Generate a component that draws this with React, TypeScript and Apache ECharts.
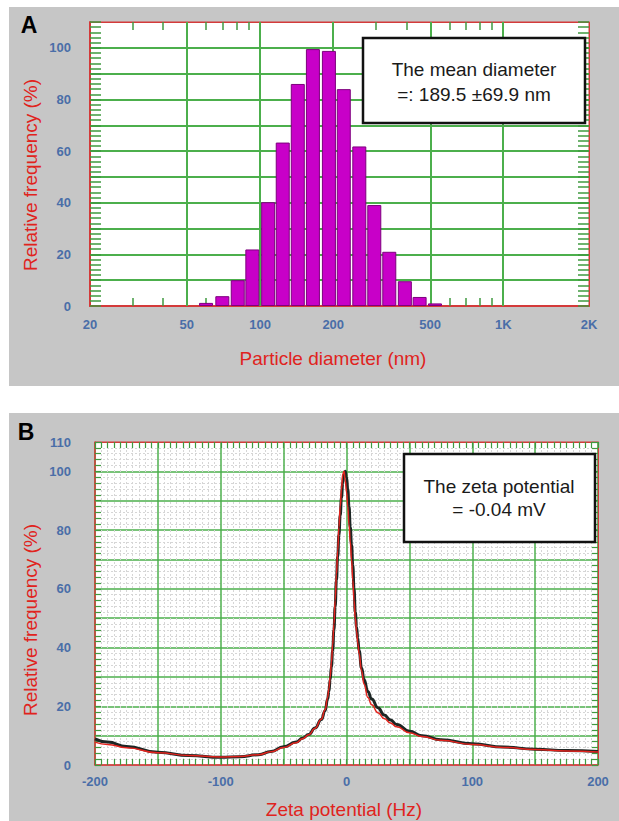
import React, { useEffect, useRef } from 'react';
import * as echarts from 'echarts';

// ---------- Panel A: particle size distribution ----------
const diameterNm = [60, 70, 81, 93, 108, 124, 143, 165, 192, 221, 256, 295, 340, 394, 453, 524];
const relFreqA = [1.2, 3.8, 10, 21.9, 40.2, 63.3, 86, 99.5, 98.8, 84, 61.8, 39.1, 21, 9.6, 3.5, 1.0];
const xEdgesA = [20, 2252];
const xLabelValuesA = [20, 50, 100, 200, 500, 1000, 2252];
const xLabelTextsA = ['20', '50', '100', '200', '500', '1K', '2K'];
const xGridValuesA = [50, 100, 200, 500, 1000];
const xMinorTicksA = [30, 40, 60, 70, 80, 90, 300, 400, 600, 700, 800, 900];

// ---------- Panel B: zeta potential ----------
const zetaHz = [-200, -190, -175, -150, -125, -100, -85, -70, -60, -50,
  -40, -35, -30, -25, -20, -17, -15, -14, -13, -12,
  -11, -10, -9, -8, -7, -6, -5, -4, -3, -2,
  -1, 0, 1, 2, 3, 4, 5, 6, 7, 8,
  9, 10, 12, 14, 17, 20, 25, 30, 35, 40,
  50, 60, 75, 100, 125, 150, 175, 200];
const freqMeasured = [8.9, 7.8, 6.3, 4.3, 3.2, 2.6, 2.8, 3.5, 4.6, 6.2,
  7.8, 9.1, 10.4, 12.6, 15.5, 18.5, 22.5, 25, 29, 33.5,
  39, 46, 54, 63, 71, 78.5, 85, 91, 96, 99,
  100, 98, 94, 88, 81, 75, 68, 60, 52, 47,
  43, 39, 33, 29, 25, 22.5, 19.5, 17, 15.3, 13.8,
  11.5, 10.0, 8.6, 7.2, 6.1, 5.4, 4.9, 4.6];
const freqFit = [7.8, 7.0, 5.9, 4.2, 3.2, 2.7, 2.9, 3.5, 4.5, 6.0,
  7.6, 8.9, 10.3, 12.5, 15.6, 18.8, 23, 26, 30, 35,
  41, 48, 56, 65, 73, 81, 88, 94, 99, 100,
  97, 93, 88, 82, 76, 70, 63, 56, 50, 45.5,
  41.5, 38, 32, 27.5, 23, 20.5, 17.8, 15.8, 14.3, 13.0,
  11.0, 9.7, 8.4, 7.0, 6.0, 5.3, 4.8, 4.4];

const FONT = '"Liberation Sans", Arial, Helvetica, sans-serif';
const RED = '#e0231d';
const AXIS_RED = '#d43a3a';
const BLUE = '#4a6ea8';
const GREEN = '#4caf4c';
const TICK_GREEN = '#3f9a3f';

const lg = (v: number) => Math.log10(v);

function labelA(v: number) {
  let best = 0;
  let bd = Infinity;
  xLabelValuesA.forEach((d, i) => {
    const dd = Math.abs(lg(d) - v);
    if (dd < bd) { bd = dd; best = i; }
  });
  return xLabelTextsA[best];
}

const labelStyle = {
  color: BLUE,
  fontWeight: 'bold' as const,
  fontSize: 13,
  fontFamily: FONT,
};

export default function App() {
  const ref = useRef<HTMLDivElement>(null);

  useEffect(() => {
    document.body.style.margin = '0';
    if (!ref.current) return;
    const chart = echarts.init(ref.current, null, { renderer: 'svg' });

    const option: any = {
      animation: false,
      grid: [
        { left: 90, top: 22, width: 499, height: 284, show: true, backgroundColor: '#ffffff', borderColor: AXIS_RED, borderWidth: 1 },
        { left: 95, top: 442, width: 503, height: 323, show: true, backgroundColor: '#ffffff', borderColor: AXIS_RED, borderWidth: 1 },
      ],
      xAxis: [
        {
          type: 'value', gridIndex: 0, position: 'bottom',
          min: lg(xEdgesA[0]), max: lg(xEdgesA[1]),
          axisLine: { show: true, onZero: false, lineStyle: { color: AXIS_RED, width: 2 } },
          axisTick: { show: true, inside: true, length: 8, customValues: xMinorTicksA.map(lg), lineStyle: { color: TICK_GREEN, width: 1.5 } },
          axisLabel: { ...labelStyle, customValues: xLabelValuesA.map(lg), formatter: (v: number) => labelA(v), margin: 12, showMinLabel: true, showMaxLabel: true, hideOverlap: false },
          splitLine: { show: false },
        },
        {
          type: 'value', gridIndex: 0, position: 'top',
          min: lg(xEdgesA[0]), max: lg(xEdgesA[1]),
          axisLine: { show: true, onZero: false, lineStyle: { color: AXIS_RED, width: 1 } },
          axisTick: { show: true, inside: true, length: 8, customValues: xMinorTicksA.map(lg), lineStyle: { color: TICK_GREEN, width: 1.5 } },
          axisLabel: { show: false },
          splitLine: { show: false },
        },
        {
          type: 'value', gridIndex: 1, position: 'bottom',
          min: -200, max: 200, interval: 50,
          axisLine: { show: true, onZero: false, lineStyle: { color: AXIS_RED, width: 1.5 } },
          axisTick: { show: true, inside: true, length: 6, lineStyle: { color: TICK_GREEN, width: 1.2 } },
          minorTick: { show: true, splitNumber: 10, length: 6, lineStyle: { color: TICK_GREEN, width: 1.2 } },
          axisLabel: { ...labelStyle, margin: 10, formatter: (v: number) => (v % 100 === 0 ? String(v) : '') },
          splitLine: { show: true, lineStyle: { color: GREEN, width: 1.5 } },
          minorSplitLine: { show: true, lineStyle: { color: '#d6d6d6', width: 1, type: [2, 2] } },
        },
        {
          type: 'value', gridIndex: 1, position: 'top',
          min: -200, max: 200, interval: 50,
          axisLine: { show: true, onZero: false, lineStyle: { color: AXIS_RED, width: 1 } },
          axisTick: { show: true, inside: true, length: 6, lineStyle: { color: TICK_GREEN, width: 1.2 } },
          minorTick: { show: true, splitNumber: 10, length: 6, lineStyle: { color: TICK_GREEN, width: 1.2 } },
          axisLabel: { show: false },
          splitLine: { show: false },
        },
      ],
      yAxis: [
        {
          type: 'value', gridIndex: 0, position: 'left',
          min: 0, max: 110, interval: 10,
          axisLine: { show: true, onZero: false, lineStyle: { color: AXIS_RED, width: 2 } },
          axisTick: { show: true, inside: true, length: 11, lineStyle: { color: TICK_GREEN, width: 1.5 } },
          minorTick: { show: true, splitNumber: 5, length: 11, lineStyle: { color: TICK_GREEN, width: 1.5 } },
          axisLabel: { ...labelStyle, margin: 19, formatter: (v: number) => (v % 20 === 0 && v <= 100 ? String(v) : '') },
          splitLine: { show: true, showMinLine: false, showMaxLine: false, lineStyle: { color: GREEN, width: 2 } },
        },
        {
          type: 'value', gridIndex: 0, position: 'right',
          min: 0, max: 110, interval: 10,
          axisLine: { show: true, onZero: false, lineStyle: { color: AXIS_RED, width: 1 } },
          axisTick: { show: true, inside: true, length: 11, lineStyle: { color: TICK_GREEN, width: 1.5 } },
          minorTick: { show: true, splitNumber: 5, length: 11, lineStyle: { color: TICK_GREEN, width: 1.5 } },
          axisLabel: { show: false },
          splitLine: { show: false },
        },
        {
          type: 'value', gridIndex: 1, position: 'left',
          min: 0, max: 110, interval: 10,
          axisLine: { show: true, onZero: false, lineStyle: { color: AXIS_RED, width: 1.5 } },
          axisTick: { show: true, inside: true, length: 6, lineStyle: { color: TICK_GREEN, width: 1.2 } },
          minorTick: { show: true, splitNumber: 5, length: 6, lineStyle: { color: TICK_GREEN, width: 1.2 } },
          axisLabel: { ...labelStyle, margin: 24, formatter: (v: number) => (v % 20 === 0 || v === 110 ? String(v) : '') },
          splitLine: { show: true, showMinLine: false, showMaxLine: false, lineStyle: { color: GREEN, width: 1.5 } },
          minorSplitLine: { show: true, lineStyle: { color: '#d6d6d6', width: 1, type: [2, 2] } },
        },
        {
          type: 'value', gridIndex: 1, position: 'right',
          min: 0, max: 110, interval: 10,
          axisLine: { show: true, onZero: false, lineStyle: { color: AXIS_RED, width: 1 } },
          axisTick: { show: true, inside: true, length: 6, lineStyle: { color: TICK_GREEN, width: 1.2 } },
          minorTick: { show: true, splitNumber: 5, length: 6, lineStyle: { color: TICK_GREEN, width: 1.2 } },
          axisLabel: { show: false },
          splitLine: { show: false },
        },
      ],
      series: [
        {
          type: 'bar',
          name: 'Relative frequency',
          xAxisIndex: 0, yAxisIndex: 0,
          z: 10,
          barWidth: 14,
          data: diameterNm.map((d, i) => [lg(d), relFreqA[i]]),
          itemStyle: { color: '#c800c8', borderColor: '#7d007d', borderWidth: 1 },
          markLine: {
            silent: true,
            symbol: ['none', 'none'],
            label: { show: false },
            lineStyle: { color: GREEN, width: 2, type: 'solid' },
            data: xGridValuesA.map((v) => ({ xAxis: lg(v) })),
          },
        },
        {
          type: 'line',
          name: 'Measured',
          xAxisIndex: 2, yAxisIndex: 2,
          showSymbol: false,
          smooth: true,
          smoothMonotone: 'x',
          data: zetaHz.map((x, i) => [x, freqMeasured[i]]),
          lineStyle: { color: '#1c2624', width: 3 },
          z: 5,
        },
        {
          type: 'line',
          name: 'Fit',
          xAxisIndex: 2, yAxisIndex: 2,
          showSymbol: false,
          smooth: true,
          smoothMonotone: 'x',
          data: zetaHz.map((x, i) => [x, freqFit[i]]),
          lineStyle: { color: '#e3241e', width: 1.5 },
          z: 6,
        },
      ],
      graphic: [
        { type: 'text', x: 29, y: 25, style: { text: 'A', align: 'center', verticalAlign: 'middle', fontSize: 23, fontWeight: 'bold', fontFamily: FONT, fill: '#000' } },
        { type: 'text', x: 26, y: 432, style: { text: 'B', align: 'center', verticalAlign: 'middle', fontSize: 23, fontWeight: 'bold', fontFamily: FONT, fill: '#000' } },
        { type: 'text', x: 30, y: 175, rotation: Math.PI / 2, style: { text: 'Relative frequency (%)', align: 'center', verticalAlign: 'middle', fontSize: 19, fontFamily: FONT, fill: RED } },
        { type: 'text', x: 333, y: 358, style: { text: 'Particle diameter (nm)', align: 'center', verticalAlign: 'middle', fontSize: 19, fontFamily: FONT, fill: RED } },
        { type: 'text', x: 30, y: 620, rotation: Math.PI / 2, style: { text: 'Relative frequency (%)', align: 'center', verticalAlign: 'middle', fontSize: 19, fontFamily: FONT, fill: RED } },
        { type: 'text', x: 344, y: 809, style: { text: 'Zeta potential (Hz)', align: 'center', verticalAlign: 'middle', fontSize: 19, fontFamily: FONT, fill: RED } },
        { type: 'rect', z: 100, shape: { x: 363, y: 38, width: 222, height: 85 }, style: { fill: '#ffffff', stroke: '#111111', lineWidth: 2.5 } },
        { type: 'text', z: 101, x: 474, y: 82, style: { text: 'The mean diameter\n=: 189.5 \u00b169.9 nm', align: 'center', verticalAlign: 'middle', fontSize: 19, lineHeight: 25, fontFamily: FONT, fill: '#1a1a1a' } },
        { type: 'rect', z: 100, shape: { x: 404, y: 454, width: 191, height: 88 }, style: { fill: '#ffffff', stroke: '#111111', lineWidth: 2.5 } },
        { type: 'text', z: 101, x: 499, y: 498, style: { text: 'The zeta potential\n= -0.04 mV', align: 'center', verticalAlign: 'middle', fontSize: 19, lineHeight: 23, fontFamily: FONT, fill: '#1a1a1a' } },
      ],
    };

    chart.setOption(option);
    return () => chart.dispose();
  }, []);

  return (
    <div style={{ position: 'relative', width: 619, height: 821, background: '#ffffff', overflow: 'hidden' }}>
      <div style={{ position: 'absolute', left: 9, top: 7, width: 610, height: 379, background: '#c6c6c6' }} />
      <div style={{ position: 'absolute', left: 9, top: 413, width: 610, height: 408, background: '#c6c6c6' }} />
      <div ref={ref} style={{ position: 'absolute', left: 0, top: 0, width: 619, height: 821 }} />
    </div>
  );
}
